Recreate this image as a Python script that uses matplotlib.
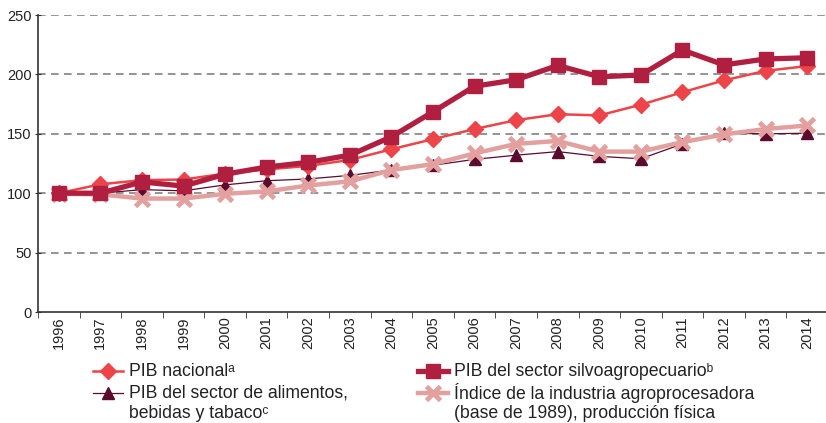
import matplotlib
matplotlib.use("Agg")
import matplotlib.pyplot as plt
from matplotlib.lines import Line2D

plt.rcParams['font.family'] = ['Liberation Sans', 'DejaVu Sans']

years = [str(y) for y in range(1996, 2015)]
pib_nacional = [100, 107.5, 111, 111.5, 116.5, 120, 123, 128, 137, 145.5, 154, 161.5, 166.5, 165.5, 174.5, 185, 195, 203, 207]
pib_silvo = [100, 100, 109.5, 106, 116, 122, 126, 132, 147.5, 168.5, 190, 195.5, 207.5, 198, 199.5, 220.5, 208, 213, 214]
pib_alim = [100, 100, 103, 102, 107, 110.5, 112, 115, 119.5, 123.5, 128.5, 132, 135, 131, 129, 141.5, 150.5, 150, 150.5]
indice_agro = [99.5, 99, 95.5, 95.5, 99.5, 101.5, 106.5, 110, 119.5, 124.5, 133.5, 141.5, 144, 135, 135, 143, 149.5, 154, 157]
yticks = [0, 50, 100, 150, 200, 250]

label_nac = ["PIB nacional\u1d43"]
label_alim = ["PIB del sector de alimentos,", "bebidas y tabaco\u1d9c"]
label_silvo = ["PIB del sector silvoagropecuario\u1d47"]
label_idx = ["Índice de la industria agroprocesadora", "(base de 1989), producción física"]

c_nac = "#EC4448"
c_silvo = "#B11F40"
c_alim = "#5A0B2E"
c_idx = "#E2A09E"

W, H = 826, 423
fig = plt.figure(figsize=(W / 100, H / 100), dpi=100)
ax = fig.add_axes([38 / W, 1 - 312 / H, (828 - 38) / W, (312 - 15) / H])

style_nac = dict(color=c_nac, lw=1.8, marker='D', ms=8)
style_alim = dict(color=c_alim, lw=0.9, marker='^', ms=9)
style_idx = dict(color=c_idx, lw=3.2, marker='x', ms=10, mew=3.5)
style_silvo = dict(color=c_silvo, lw=3.8, marker='s', ms=10)

x = list(range(len(years)))
ax.plot(x, pib_alim, zorder=3, **style_alim)
ax.plot(x, pib_nacional, zorder=4, **style_nac)
ax.plot(x, indice_agro, zorder=5, **style_idx)
ax.plot(x, pib_silvo, zorder=6, **style_silvo)

ax.set_xlim(-0.5, len(years) - 0.5)
ax.set_ylim(0, 250)
ax.set_yticks(yticks)
ax.set_yticklabels([str(v) for v in yticks], fontsize=10.5, color="#222222")
ax.set_xticks(x)
ax.set_xticklabels(years, rotation=90, fontsize=10.5, color="#222222")
ax.set_xticks([i - 0.5 for i in range(len(years) + 1)], minor=True)
ax.tick_params(axis='x', which='major', length=0, pad=3)
ax.tick_params(axis='x', which='minor', length=4, color="#333333", direction='out')
ax.tick_params(axis='y', length=5, color="#333333", pad=2, direction='inout')

for v in yticks[1:]:
    ax.axhline(v, color="#777777", lw=1.1, ls=(0, (5, 3.5)), zorder=1)

for s in ['top', 'right']:
    ax.spines[s].set_visible(False)
for s in ['left', 'bottom']:
    ax.spines[s].set_color("#333333")
    ax.spines[s].set_linewidth(1.2)


def legend_entry(x0, y0, style, lines):
    # handle: line with a marker in the middle (pixel coords from top-left)
    xs = [x0 / W, (x0 + 15) / W, (x0 + 30) / W]
    ys = [1 - y0 / H] * 3
    ln = Line2D(xs, ys, transform=fig.transFigure, markevery=[1], **style)
    fig.add_artist(ln)
    for i, t in enumerate(lines):
        fig.text((x0 + 36) / W, 1 - (y0 + i * 20.5) / H, t, fontsize=12.7,
                 color="#222222", va='center', ha='left')


legend_entry(93, 371, style_nac, label_nac)
legend_entry(93, 393, style_alim, label_alim)
legend_entry(418, 371, style_silvo, label_silvo)
legend_entry(418, 393, style_idx, label_idx)

fig.savefig("out.png", dpi=100)
